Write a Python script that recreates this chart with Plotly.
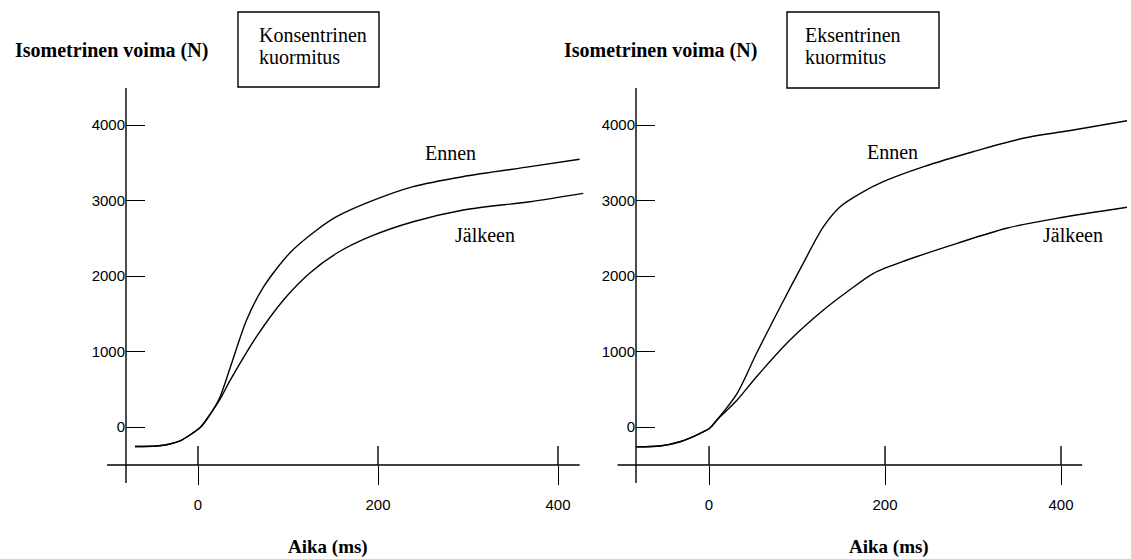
import plotly.graph_objects as go

W, H = 1131, 559

# ---------------- data (time in ms, force in N) ----------------
kons_ennen_t = [-70, -46, -31, -20, -9, 3, 13, 24, 36, 54, 73, 102, 132, 154, 191, 239, 294, 369, 424]
kons_ennen_f = [-258, -252, -225, -185, -106, 0, 159, 384, 795, 1417, 1858, 2305, 2609, 2785, 2984, 3183, 3315, 3448, 3546]

kons_jalkeen_t = [-70, -46, -31, -20, -9, 3, 13, 24, 36, 65, 95, 124, 154, 191, 239, 295, 369, 428]
kons_jalkeen_f = [-258, -252, -225, -185, -106, 0, 159, 358, 623, 1196, 1682, 2036, 2301, 2521, 2719, 2874, 2984, 3095]

eks_ennen_t = [-83, -56, -33, -10, 1, 9, 32, 54, 81, 107, 130, 149, 172, 198, 244, 300, 357, 414, 475]
eks_ennen_f = [-261, -252, -195, -83, -13, 93, 446, 976, 1593, 2168, 2653, 2918, 3095, 3249, 3448, 3646, 3824, 3934, 4057]

eks_jalkeen_t = [-83, -56, -33, -10, 1, 9, 32, 54, 92, 130, 157, 187, 225, 282, 338, 395, 475]
eks_jalkeen_f = [-261, -252, -195, -83, -13, 93, 358, 666, 1152, 1550, 1792, 2036, 2212, 2433, 2632, 2764, 2910]

x_ticks = [0, 200, 400]
y_ticks = [0, 1000, 2000, 3000, 4000]

y_title = "Isometrinen voima (N)"
x_title = "Aika (ms)"
box_titles = [["Konsentrinen", "kuormitus"], ["Eksentrinen", "kuormitus"]]
series_names = ["Ennen", "Jälkeen"]

# ---------------- layout constants ----------------
SERIF = "Liberation Serif, Times New Roman, serif"
SANS = "Liberation Sans, Arial, sans-serif"
INK = "#000000"

y_range = [-503.3, 4490]
panels = [
    dict(xa="x", ya="y", dom=[126 / W, 585 / W], xr=[-80, 430], line_ext=[-101, 424]),
    dict(xa="x2", ya="y2", dom=[636 / W, 1130 / W], xr=[-83, 478.4], line_ext=[-104, 424]),
]
y_dom = [1 - 465 / H, 1 - 88 / H]
y_line_bottom = -742
tick_up = 19 / (377 / (y_range[1] - y_range[0]))  # 19 px in data units

fig = go.Figure()

data_sets = [
    (kons_ennen_t, kons_ennen_f, kons_jalkeen_t, kons_jalkeen_f),
    (eks_ennen_t, eks_ennen_f, eks_jalkeen_t, eks_jalkeen_f),
]

for p, (et, ef, jt, jf) in zip(panels, data_sets):
    for tt, ff, nm in [(et, ef, series_names[0]), (jt, jf, series_names[1])]:
        fig.add_trace(go.Scatter(
            x=tt, y=ff, mode="lines", name=nm, xaxis=p["xa"], yaxis=p["ya"],
            line=dict(color=INK, width=1.4, shape="spline", smoothing=0.8),
            showlegend=False, hoverinfo="skip"))

axis_common = dict(showgrid=False, zeroline=False, showline=False,
                   tickcolor=INK, tickwidth=1.4, ticklen=19,
                   tickfont=dict(family=SANS, size=15, color=INK))

shapes = []
for i, p in enumerate(panels):
    sfx = "" if i == 0 else "2"
    fig.update_layout(**{
        "xaxis" + sfx: dict(domain=p["dom"], range=p["xr"], anchor="y" + sfx,
                            ticks="outside", tickmode="array", tickvals=x_ticks,
                            ticktext=[str(v) for v in x_ticks], ticklabelstandoff=7,
                            **axis_common),
        "yaxis" + sfx: dict(domain=y_dom, range=y_range, anchor="x" + sfx,
                            ticks="inside", tickmode="array", tickvals=y_ticks,
                            ticktext=[str(v) for v in y_ticks], **axis_common),
    })
    xr = p["xr"]
    def dx(v, xr=xr):
        return (v - xr[0]) / (xr[1] - xr[0])
    def dy(v):
        return (v - y_range[0]) / (y_range[1] - y_range[0])
    # x axis line (extends left past y axis)
    shapes.append(dict(type="line", xref=p["xa"] + " domain", yref=p["ya"] + " domain",
                       x0=dx(p["line_ext"][0]), x1=dx(p["line_ext"][1]), y0=0, y1=0,
                       line=dict(color=INK, width=1.4)))
    # y axis line (extends below x axis)
    shapes.append(dict(type="line", xref=p["xa"] + " domain", yref=p["ya"] + " domain",
                       x0=0, x1=0, y0=dy(y_line_bottom), y1=1,
                       line=dict(color=INK, width=1.4)))
    # upper halves of crossing x ticks
    for v in x_ticks:
        shapes.append(dict(type="line", xref=p["xa"], yref=p["ya"],
                           x0=v, x1=v, y0=y_range[0], y1=y_range[0] + tick_up,
                           line=dict(color=INK, width=1.4)))

# boxes
boxes_px = [(238, 12, 379, 87), (787, 12, 939, 88)]
for (x0, y0, x1, y1) in boxes_px:
    shapes.append(dict(type="rect", xref="paper", yref="paper",
                       x0=x0 / W, x1=x1 / W, y0=1 - y1 / H, y1=1 - y0 / H,
                       line=dict(color=INK, width=1.4), fillcolor="rgba(0,0,0,0)"))

ann = []
# y titles
for cx in (111, 660):
    ann.append(dict(text="<b>" + y_title + "</b>", xref="paper", yref="paper",
                    x=cx / W, y=1 - 50 / H, xanchor="center", yanchor="middle",
                    showarrow=False, font=dict(family=SERIF, size=20, color=INK)))
# x titles
for cx in (328, 889):
    ann.append(dict(text="<b>" + x_title + "</b>", xref="paper", yref="paper",
                    x=cx / W, y=1 - 547 / H, xanchor="center", yanchor="middle",
                    showarrow=False, font=dict(family=SERIF, size=19, color=INK)))
# box texts
for lx, lines in zip((257, 803), box_titles):
    for ly, txt in zip((35, 57), lines):
        ann.append(dict(text=txt, xref="paper", yref="paper",
                        x=lx / W, y=1 - ly / H, xanchor="left", yanchor="middle",
                        showarrow=False, font=dict(family=SERIF, size=20, color=INK)))
# curve labels (data coords)
label_pos = [
    [(280, 3629), (319, 2543)],
    [(208, 3643), (414, 2543)],
]
for p, lp in zip(panels, label_pos):
    for (lx, ly), nm in zip(lp, series_names):
        ann.append(dict(text=nm, xref=p["xa"], yref=p["ya"], x=lx, y=ly,
                        xanchor="center", yanchor="middle", showarrow=False,
                        font=dict(family=SERIF, size=20, color=INK)))

fig.update_layout(width=W, height=H, autosize=False,
                  margin=dict(l=0, r=0, t=0, b=0, pad=0),
                  paper_bgcolor="white", plot_bgcolor="white",
                  shapes=shapes, annotations=ann, showlegend=False)

fig.write_html("out.html", config={"displayModeBar": False})
